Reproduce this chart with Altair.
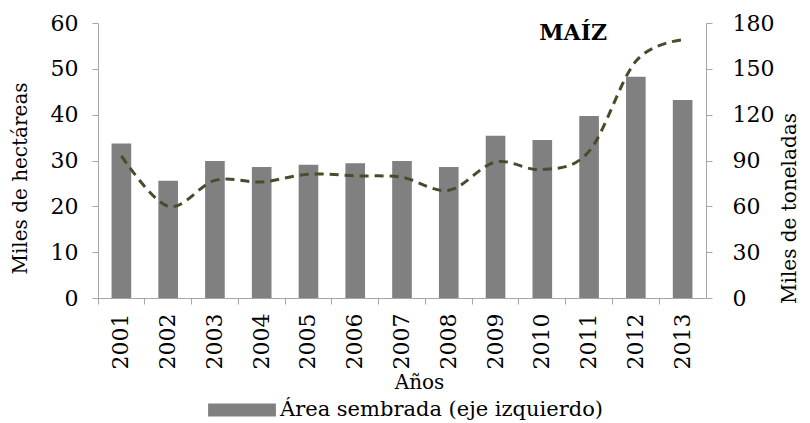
import altair as alt
import pandas as pd

years = ["2001", "2002", "2003", "2004", "2005", "2006", "2007",
         "2008", "2009", "2010", "2011", "2012", "2013"]
area = [33.7, 25.6, 29.9, 28.6, 29.1, 29.4, 29.9, 28.6, 35.4, 34.5, 39.7, 48.3, 43.2]
produccion = [93, 60, 77, 76, 81, 80, 79, 70.5, 89, 84, 96, 155, 169]
serie_barras = "Área sembrada (eje izquierdo)"

df = pd.DataFrame({"Año": years, "Area": area, "Prod": produccion,
                   "Serie": [serie_barras] * len(years)})

FONT = "DejaVu Serif"
AX = "#a6a6a6"

bars = alt.Chart(df).mark_bar(color="#808080").encode(
    x=alt.X("Año:N", sort=years,
            scale=alt.Scale(type="band", paddingInner=0.58, paddingOuter=0.29),
            axis=alt.Axis(title="Años", orient="bottom", labelAngle=-90, ticks=False,
                          domain=False, labelPadding=15, titlePadding=4, titleX=321)),
    y=alt.Y("Area:Q", scale=alt.Scale(domain=[0, 60]),
            axis=alt.Axis(title="Miles de hectáreas", orient="left",
                          values=[0, 10, 20, 30, 40, 50, 60],
                          labelPadding=14, titlePadding=20, titleY=155)),
    color=alt.Color("Serie:N", scale=alt.Scale(range=["#808080"]),
                    legend=alt.Legend(title=None, orient="none", legendX=110, legendY=353,
                                      symbolType="M-1,-0.19H1V0.19H-1Z",
                                      symbolSize=4600, symbolStrokeWidth=0,
                                      symbolOpacity=1, labelFontSize=21, labelLimit=0,
                                      labelFont=FONT, labelOffset=4)),
)

line = alt.Chart(df).mark_line(color="#4d4a2c", strokeWidth=3,
                               strokeDash=[9, 6], interpolate="cardinal").encode(
    x=alt.X("Año:N", sort=years,
            scale=alt.Scale(type="band", paddingInner=0, paddingOuter=0),
            axis=alt.Axis(title=None, orient="bottom", labels=False, ticks=True,
                          bandPosition=0, domain=True)),
    y=alt.Y("Prod:Q", scale=alt.Scale(domain=[0, 180]),
            axis=alt.Axis(title="Miles de toneladas", orient="right",
                          values=[0, 30, 60, 90, 120, 150, 180],
                          labelPadding=20, titlePadding=26, titleAngle=270,
                          titleY=185)),
)

chart = alt.layer(bars, line).resolve_scale(
    x="independent", y="independent"
).resolve_axis(
    x="independent", y="independent"
).properties(
    width=608, height=275,
    padding={"left": 2, "top": 4, "right": 0, "bottom": 0},
    title=alt.TitleParams("MAÍZ", anchor="end", frame="group", offset=-33, dx=-99,
                          font=FONT, fontSize=22, fontWeight="bold", color="black"),
).configure_view(stroke=None).configure_axis(
    domainColor=AX, tickColor=AX, tickSize=6, grid=False,
    labelFont=FONT, labelFontSize=22, labelColor="black",
    titleFont=FONT, titleFontSize=20, titleFontWeight="normal", titleColor="black",
).configure_legend(labelColor="black")

chart.save("out.html", embed_options={"renderer": "svg", "actions": False})
